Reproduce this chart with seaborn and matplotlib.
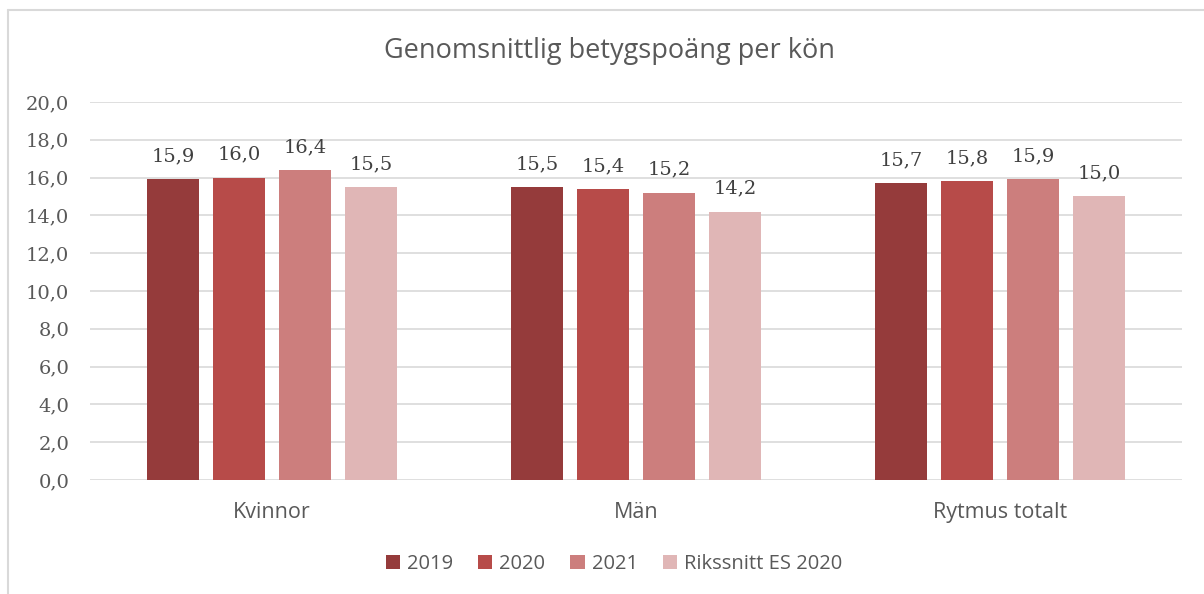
import matplotlib.pyplot as plt
import matplotlib.lines as mlines
import numpy as np
import pandas as pd
import seaborn as sns

# data
kategorier = ['Kvinnor', 'Män', 'Rytmus totalt']
serier = ['2019', '2020', '2021', 'Rikssnitt ES 2020']
v2019 = [15.9, 15.5, 15.7]
v2020 = [16.0, 15.4, 15.8]
v2021 = [16.4, 15.2, 15.9]
riks = [15.5, 14.2, 15.0]
farger = ['#953B3B', '#B74B49', '#CC7E7D', '#E0B6B6']
yticks = np.arange(0, 21, 2)

rows = []
for s, vals in zip(serier, [v2019, v2020, v2021, riks]):
    for k, v in zip(kategorier, vals):
        rows.append({'kat': k, 'serie': s, 'varde': v})
df = pd.DataFrame(rows)

sns.set_theme(style='white')
sans = ['Open Sans', 'DejaVu Sans']
serif = ['DejaVu Serif']

fig = plt.figure(figsize=(12.04, 5.94), dpi=100)
ax = fig.add_axes([90/1204, 1-480/594, (1182-90)/1204, (480-102)/594])

sns.barplot(data=df, x='kat', y='varde', hue='serie', order=kategorier,
            hue_order=serier, palette=farger, width=0.725, gap=0.21,
            saturation=1, errorbar=None, ax=ax, zorder=3, linewidth=0, edgecolor='none')

for cont in ax.containers:
    ax.bar_label(cont, labels=[('%.1f' % b.get_height()).replace('.', ',') for b in cont],
                 padding=10, fontsize=14, family=serif, color='#404040')

ax.set_ylim(0, 20)
ax.set_yticks(yticks)
ax.set_yticklabels([('%.1f' % t).replace('.', ',') for t in yticks],
                   family=serif, fontsize=14, color='#595959')
ax.tick_params(axis='y', length=0, pad=15)
ax.tick_params(axis='x', length=0, pad=16)
for lab in ax.get_xticklabels():
    lab.set_family(sans)
    lab.set_fontsize(15.5)
    lab.set_color('#595959')
ax.grid(axis='y', color='#D9D9D9', linewidth=1.2, zorder=0)
ax.set_axisbelow(True)
for sp in ax.spines.values():
    sp.set_visible(False)
ax.set_xlabel('')
ax.set_ylabel('')
ax.set_xlim(-0.5, 2.5)

fig.text(610/1204, 1-51/594, 'Genomsnittlig betygspoäng per kön', ha='center', va='center',
         family=sans, fontsize=19.5, color='#595959')

handles, labels = ax.get_legend_handles_labels()
ax.legend(handles, labels, loc='center', bbox_to_anchor=(614/1204, 1-564/594),
          bbox_transform=fig.transFigure, ncol=4, frameon=False,
          prop={'family': sans, 'size': 14.5}, handlelength=0.7, handleheight=0.7,
          columnspacing=1.25, handletextpad=0.35, labelcolor='#595959')

# ram runt diagrammet
fig.add_artist(mlines.Line2D([8/1204, 8/1204], [0, 1-10/594], color='#D9D9D9', lw=1.5))
fig.add_artist(mlines.Line2D([8/1204, 1], [1-10/594, 1-10/594], color='#D9D9D9', lw=1.5))

fig.savefig('out.png', dpi=100)
